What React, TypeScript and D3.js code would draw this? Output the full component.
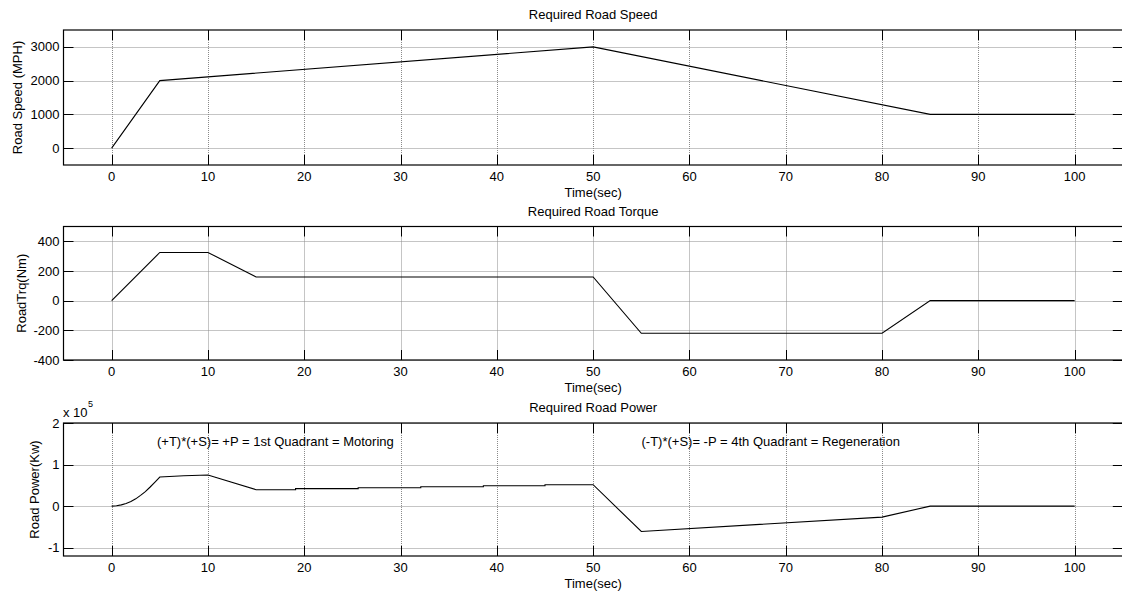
import * as d3 from "d3";

// time axis (sec)
const timeTicks = [0, 10, 20, 30, 40, 50, 60, 70, 80, 90, 100];

// road speed
const speedTime = [0, 5, 50, 85, 100];
const speedValue = [0, 2000, 3000, 1000, 1000];
const speedTicks = [0, 1000, 2000, 3000];

// road torque
const torqueTime = [0, 5, 10, 15, 50, 55, 80, 85, 100];
const torqueValue = [0, 325, 325, 160, 160, -220, -220, 0, 0];
const torqueTicks = [-400, -200, 0, 200, 400];

// road power, in units of 1e5
const powerTime = [0, 0.5, 1, 1.5, 2, 2.5, 3, 3.5, 4, 4.5, 5, 7.5, 10, 15, 19.1, 19.1, 25.6, 25.6, 32.1, 32.1, 38.6, 38.6, 45, 45, 50, 55, 80, 85, 100];
const powerValue = [0, 0.01, 0.03, 0.065, 0.11, 0.175, 0.26, 0.35, 0.46, 0.58, 0.7, 0.73, 0.75, 0.395, 0.395, 0.42, 0.42, 0.443, 0.443, 0.467, 0.467, 0.49, 0.49, 0.515, 0.515, -0.61, -0.265, 0, 0];
const powerTicks = [-1, 0, 1, 2];

const motoringNote = "(+T)*(+S)= +P = 1st Quadrant = Motoring";
const regenNote = "(-T)*(+S)= -P = 4th Quadrant = Regeneration";

const W = 1122;
const H = 593;
const left = 63.5;
const right = 1122.8;
const tickLen = 10;
const font = "'Liberation Sans', Arial, Helvetica, sans-serif";
const fs = 13;

const xScale = d3.scaleLinear().domain([-5, 105]).range([left, right]);

function Panel(props) {
  const { top, bottom, yDomain, yTicks, times, values, title, yLabel, id } = props;
  const yScale = d3.scaleLinear().domain(yDomain).range([bottom, top]);
  const pts = times.map((t, i) => [t, values[i]]);
  const line = d3.line().x((d) => xScale(d[0])).y((d) => yScale(d[1]));
  const cx = (left + right) / 2;

  return (
    <g>
      <defs>
        <clipPath id={id}>
          <rect x={left} y={top} width={right - left} height={bottom - top} />
        </clipPath>
      </defs>
      {/* grid */}
      {timeTicks.map((t) => (
        <line key={"gx" + t} x1={Math.round(xScale(t)) + 0.5} x2={Math.round(xScale(t)) + 0.5} y1={top} y2={bottom}
          stroke="#8a8a8a" strokeWidth={1} strokeDasharray="1 1" />
      ))}
      {yTicks.map((v) => (
        <line key={"gy" + v} x1={left} x2={right} y1={Math.round(yScale(v)) + 0.5} y2={Math.round(yScale(v)) + 0.5}
          stroke="#8a8a8a" strokeWidth={1} strokeDasharray="1 1" />
      ))}
      {/* data */}
      <path d={line(pts)} fill="none" stroke="black" strokeWidth={1.1} clipPath={`url(#${id})`} />
      {/* box */}
      <rect x={left} y={top} width={right - left} height={bottom - top} fill="none" stroke="black" strokeWidth={1.2} />
      {/* ticks */}
      {timeTicks.map((t) => {
        const x = Math.round(xScale(t)) + 0.5;
        return (
          <g key={"tx" + t}>
            <line x1={x} x2={x} y1={top} y2={top + tickLen} stroke="black" />
            <line x1={x} x2={x} y1={bottom} y2={bottom - tickLen} stroke="black" />
            <text x={xScale(t)} y={bottom + 16} fontSize={fs} fontFamily={font} textAnchor="middle">{t}</text>
          </g>
        );
      })}
      {yTicks.map((v) => {
        const y = Math.round(yScale(v)) + 0.5;
        return (
          <g key={"ty" + v}>
            <line x1={left} x2={left + tickLen} y1={y} y2={y} stroke="black" />
            <line x1={right} x2={right - tickLen} y1={y} y2={y} stroke="black" />
            <text x={left - 4} y={yScale(v) + 4.5} fontSize={fs} fontFamily={font} textAnchor="end">{v}</text>
          </g>
        );
      })}
      <text x={cx} y={top - 11} fontSize={fs} fontFamily={font} textAnchor="middle">{title}</text>
      <text x={cx} y={bottom + 32} fontSize={fs} fontFamily={font} textAnchor="middle">Time(sec)</text>
      <text transform={`translate(${props.labelX},${(top + bottom) / 2}) rotate(-90)`} fontSize={fs} fontFamily={font}
        textAnchor="middle">{yLabel}</text>
      {props.children}
    </g>
  );
}

export default function App() {
  return (
    <svg width={W} height={H} viewBox={`0 0 ${W} ${H}`} style={{ position: "absolute", left: 0, top: 0, background: "white" }}>
      <rect x={0} y={0} width={W} height={H} fill="white" />
      <Panel id="c1" top={30} bottom={165} yDomain={[-500, 3500]} yTicks={speedTicks}
        times={speedTime} values={speedValue} title="Required Road Speed" yLabel="Road Speed (MPH)" labelX={22} />
      <Panel id="c2" top={226.5} bottom={360} yDomain={[-400, 500]} yTicks={torqueTicks}
        times={torqueTime} values={torqueValue} title="Required Road Torque" yLabel="RoadTrq(Nm)" labelX={26} />
      <Panel id="c3" top={423} bottom={556} yDomain={[-1.2, 2]} yTicks={powerTicks}
        times={powerTime} values={powerValue} title="Required Road Power" yLabel="Road Power(Kw)" labelX={39}>
        <text x={63} y={417} fontSize={fs} fontFamily={font}>x 10</text>
        <text x={88} y={407} fontSize={9} fontFamily={font}>5</text>
        <text x={157} y={446} fontSize={fs} fontFamily={font}>{motoringNote}</text>
        <text x={641.5} y={446} fontSize={fs} fontFamily={font}>{regenNote}</text>
      </Panel>
    </svg>
  );
}
